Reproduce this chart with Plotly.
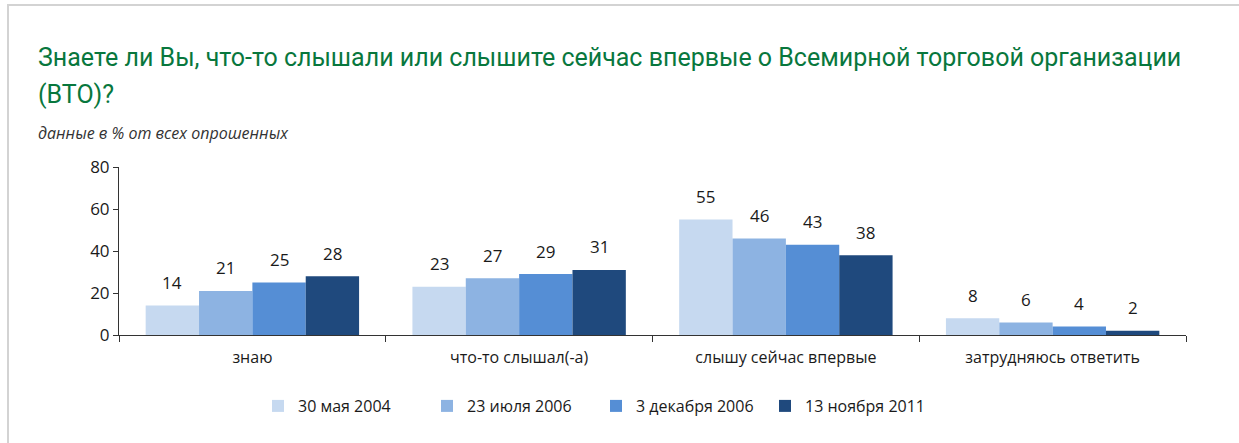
import plotly.graph_objects as go

categories = ["знаю", "что-то слышал(-а)", "слышу сейчас впервые", "затрудняюсь ответить"]
series_names = ["30 мая 2004", "23 июля 2006", "3 декабря 2006", "13 ноября 2011"]
v2004 = [14, 23, 55, 8]
v2006a = [21, 27, 46, 6]
v2006b = [25, 29, 43, 4]
v2011 = [28, 31, 38, 2]
colors = ["#c6d9f0", "#8db3e2", "#558ed5", "#1f497d"]

W, H = 1239, 443
L, R, T, B = 119, 53, 167, 108
FONT = "Open Sans"
TFONT = "Roboto"
BARGAP = 0.2

fig = go.Figure()
all_vals = [v2004, v2006a, v2006b, v2011]
for name, vals, c in zip(series_names, all_vals, colors):
    fig.add_trace(go.Bar(x=categories, y=vals, name=name, marker=dict(color=c, line=dict(width=0))))

def pxx(p):
    return (p - L) / (W - L - R)

def pxy(p):
    return (H - B - p) / (H - T - B)

annotations = []
n = len(all_vals)
bw = (1 - BARGAP) / n
for j, vals in enumerate(all_vals):
    for i, v in enumerate(vals):
        annotations.append(dict(x=i + (j - (n - 1) / 2) * bw, y=v, xref="x", yref="y",
                                text=str(v), showarrow=False, yshift=23, yanchor="middle",
                                font=dict(family=FONT, size=17, color="#1a1a1a")))

annotations.append(dict(x=pxx(36), y=pxy(57), xref="paper", yref="paper", xanchor="left", yanchor="middle",
                        text="Знаете ли Вы, что-то слышали или слышите сейчас впервые о Всемирной торговой организации",
                        showarrow=False, font=dict(family=TFONT, size=25, color="#08773d")))
annotations.append(dict(x=pxx(36), y=pxy(94), xref="paper", yref="paper", xanchor="left", yanchor="middle",
                        text="(ВТО)?", showarrow=False, font=dict(family=TFONT, size=25, color="#08773d")))
annotations.append(dict(x=pxx(36), y=pxy(133), xref="paper", yref="paper", xanchor="left", yanchor="middle",
                        text="<i>данные в % от всех опрошенных</i>", showarrow=False,
                        font=dict(family=FONT, size=16, color="#333333")))

shapes = [
    dict(type="line", xref="paper", yref="paper", x0=pxx(7), x1=pxx(1239), y0=pxy(5), y1=pxy(5),
         line=dict(color="#d3d3d3", width=2)),
    dict(type="line", xref="paper", yref="paper", x0=pxx(8), x1=pxx(8), y0=pxy(5), y1=pxy(443),
         line=dict(color="#d3d3d3", width=2)),
]

fig.update_layout(
    width=W, height=H, margin=dict(l=L, r=R, t=T, b=B),
    paper_bgcolor="white", plot_bgcolor="white",
    barmode="group", bargap=BARGAP, bargroupgap=0,
    font=dict(family=FONT, size=16, color="#1a1a1a"),
    showlegend=True,
    legend=dict(orientation="h", x=pxx(258), xanchor="left", y=pxy(406), yanchor="middle",
                font=dict(family=FONT, size=16, color="#1a1a1a"), itemwidth=30,
                entrywidthmode="pixels", entrywidth=124,
                traceorder="normal"),
    annotations=annotations, shapes=shapes,
    xaxis=dict(showline=True, linecolor="#333333", linewidth=1, ticks="outside", tickson="boundaries",
               ticklen=6, tickcolor="#333333", showgrid=False, tickfont=dict(size=16),
               ticklabelstandoff=8),
    yaxis=dict(range=[0, 80], dtick=20, showline=True, linecolor="#333333", linewidth=1, ticks="outside",
               ticklen=5, tickcolor="#333333", showgrid=False, zeroline=False, tickfont=dict(size=17)),
)

fig.write_html("out.html")
